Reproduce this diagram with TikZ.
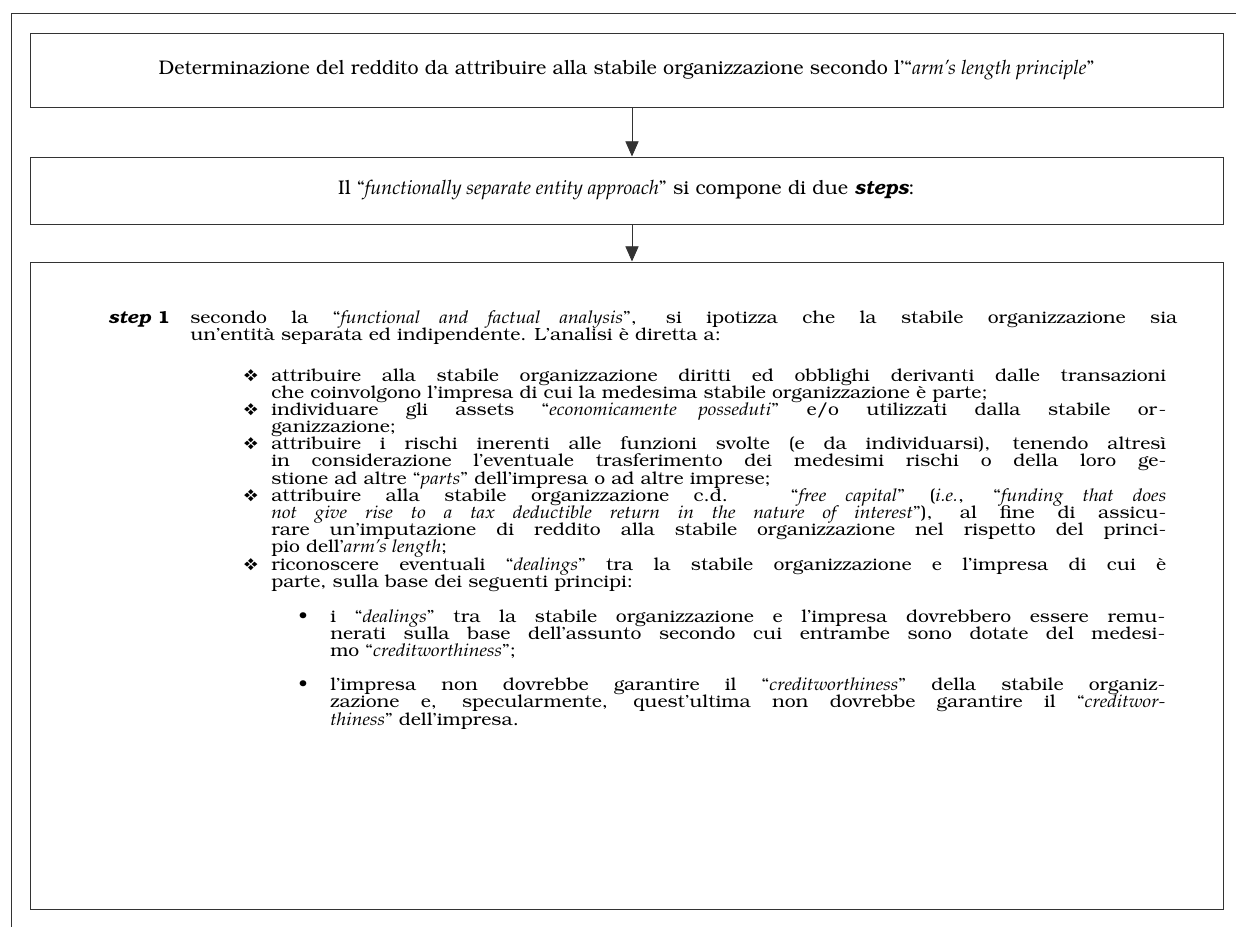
\documentclass[tikz,border=0pt]{standalone}
\usepackage[T1]{fontenc}
\usepackage{bookman}
\usepackage{pifont}
\usepackage{graphicx}
\usetikzlibrary{arrows.meta}
\tolerance=10000
\hyphenpenalty=10000
% fixed line pitch, even where the glyphs are tall
\newcommand{\tightlines}{\lineskiplimit=-100pt\lineskip=0pt\relax}
% wide body text: paragraph set narrower, then stretched sideways
\newcommand{\widepar}[2]{\scalebox{1.1}[1]{\parbox[t]{#1}{\tightlines #2}}}
\tikzset{
    every node/.style={inner sep=0pt, font=\fontsize{14}{12.23}\selectfont}
}
\tikzset{
    box/.style={draw=black!80, line width=.7pt, minimum width=29.825cm},
    txt/.style={anchor=base west, font=\fontsize{12.5}{12.23}\selectfont},
    arr/.style={draw=black!80, line width=.6pt, -{Triangle[length=0.38cm, width=0.33cm]}}
}
% narrow italic, bold italic, list marks
\renewcommand{\textit}[1]{{\fontfamily{ppl}\itshape #1}}
\newcommand{\bfit}[1]{{\bfseries\itshape #1}}
\newcommand{\dmark}{\llap{{\fontsize{12}{12}\selectfont\ding{118}}\hskip0.3cm}}
\newcommand{\bmark}{\llap{\textbullet\hskip0.52cm}}

\begin{document}
\begin{tikzpicture}
  \useasboundingbox (0cm, 0cm) rectangle (30.9cm, -23.175cm);
  \draw [black!80, line width=.7pt] (30.9cm, -0.325cm) -- (0.275cm, -0.325cm) -- (0.275cm, -23.175cm);

  \node (title) [box, minimum height=1.85cm] at (15.6625cm, -1.75cm)
    {Determinazione del reddito da attribuire alla stabile organizzazione secondo l'``\textit{arm's length principle}''};
  \node (approach) [box, minimum height=1.675cm] at (15.6625cm, -4.7625cm)
    {Il ``\textit{functionally separate entity approach}'' si compone di due \bfit{steps}:};
  \node (frame) [box, minimum height=16.175cm] at (15.6625cm, -14.6375cm) {};

  \draw [arr] ([xshift=0.1375cm]title.south) -- ([xshift=0.1375cm]approach.north);
  \draw [arr] ([xshift=0.1375cm]approach.south) -- ([xshift=0.1375cm]frame.north);

  \node (step) [txt] at (2.7cm, -8.075cm) {\scalebox{1.1}[1]{\bfit{step}~\textbf{1}}};
  \node (intro) [txt] at (4.75cm, -8.075cm) {\widepar{22.432cm}{%
    secondo la ``\textit{functional and factual analysis}'', si ipotizza che la stabile organizzazione sia\linebreak
    un'entit\`a separata ed indipendente. L'analisi \`e diretta a:}};

  \node (items) [txt] at (6.775cm, -9.525cm) {\widepar{20.341cm}{%
    \noindent\dmark attribuire alla stabile organizzazione diritti ed obblighi derivanti dalle transazioni\linebreak
    che coinvolgono l'impresa di cui la medesima stabile organizzazione \`e parte;\par
    \noindent\dmark individuare gli assets ``\textit{economicamente posseduti}'' e/o utilizzati dalla stabile or-\linebreak
    ganizzazione;\par
    \noindent\dmark attribuire i rischi inerenti alle funzioni svolte (e da individuarsi), tenendo altres\`i\linebreak
    in considerazione l'eventuale trasferimento dei medesimi rischi o della loro ge-\linebreak
    stione ad altre ``\textit{parts}'' dell'impresa o ad altre imprese;\par
    \noindent\dmark attribuire alla stabile organizzazione c.d. ``\textit{free capital}'' (\textit{i.e.}, ``\textit{funding that does}\linebreak
    \textit{not give rise to a tax deductible return in the nature of interest}''), al fine di assicu-\linebreak
    rare un'imputazione di reddito alla stabile organizzazione nel rispetto del princi-\linebreak
    pio dell'\textit{arm's length};\par
    \noindent\dmark riconoscere eventuali ``\textit{dealings}'' tra la stabile organizzazione e l'impresa di cui \`e\linebreak
    parte, sulla base dei seguenti principi:}};

  \node (subitems) [txt] at (8.25cm, -15.55cm) {\widepar{18.977cm}{%
    \noindent\bmark i ``\textit{dealings}'' tra la stabile organizzazione e l'impresa dovrebbero essere remu-\linebreak
    nerati sulla base dell'assunto secondo cui entrambe sono dotate del medesi-\linebreak
    mo ``\textit{creditworthiness}'';\par
    \vskip\baselineskip
    \noindent\bmark l'impresa non dovrebbe garantire il ``\textit{creditworthiness}'' della stabile organiz-\linebreak
    zazione e, specularmente, quest'ultima non dovrebbe garantire il ``\textit{creditwor-}\linebreak
    \textit{thiness}'' dell'impresa.}};
\end{tikzpicture}
\end{document}
